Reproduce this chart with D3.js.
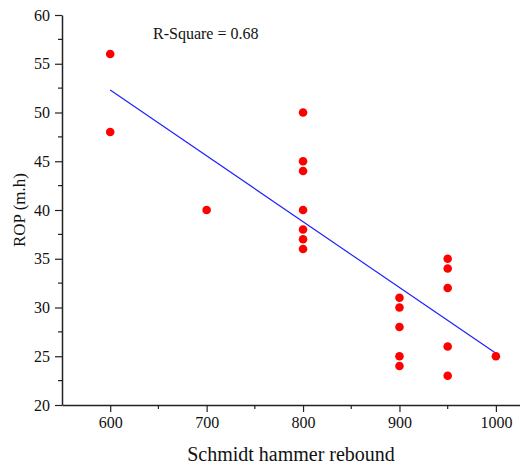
<!DOCTYPE html>
<html><head><meta charset="utf-8">
<script src="https://cdn.jsdelivr.net/npm/d3@7"></script>
<style>body{margin:0;background:#fff}svg{display:block}</style>
</head><body>
<script>
const hammer = [600,600,700,800,800,800,800,800,800,800,900,900,900,900,900,950,950,950,950,950,1000];
const rop    = [56,48,40,50,45,44,40,38,37,36,31,30,28,25,24,35,34,32,26,23,25];
const fitX = [600,1000];
const fitY = [52.3,25.3];
const xTicks = [600,700,800,900,1000];
const yTicks = [20,25,30,35,40,45,50,55,60];
const rSquareLabel = "R-Square = 0.68";

const W=520,H=468;
const svg=d3.select("body").append("svg").attr("width",W).attr("height",H);
const x=d3.scaleLinear().domain([550,1025]).range([62,520]);
const y=d3.scaleLinear().domain([20,60]).range([405,15]);
const font="'Liberation Serif','Times New Roman',serif";

// minor ticks
const xMinor=d3.range(650,1025,100);
const yMinor=d3.range(22.5,60,5);
svg.append("g").selectAll("line").data(xMinor).join("line")
  .attr("x1",d=>x(d)).attr("x2",d=>x(d)).attr("y1",405).attr("y2",409)
  .attr("stroke","#222").attr("stroke-width",1.2);
svg.append("g").selectAll("line").data(yMinor).join("line")
  .attr("y1",d=>y(d)).attr("y2",d=>y(d)).attr("x1",62).attr("x2",58)
  .attr("stroke","#222").attr("stroke-width",1.2);

const xa=svg.append("g").attr("transform","translate(0,405)")
  .call(d3.axisBottom(x).tickValues(xTicks).tickFormat(d3.format("d")).tickSize(7).tickPadding(5).tickSizeOuter(0));
const ya=svg.append("g").attr("transform","translate(62,0)")
  .call(d3.axisLeft(y).tickValues(yTicks).tickFormat(d3.format("d")).tickSize(7).tickPadding(5).tickSizeOuter(0));
[xa,ya].forEach(a=>{
  a.select(".domain").attr("stroke","#222").attr("stroke-width",1.5);
  a.selectAll(".tick line").attr("stroke","#222").attr("stroke-width",1.2);
  a.selectAll("text").attr("font-family",font).attr("font-size",16).attr("fill","#111");
});

// regression line
svg.append("line")
  .attr("x1",x(fitX[0])).attr("y1",y(fitY[0]))
  .attr("x2",x(fitX[1])).attr("y2",y(fitY[1]))
  .attr("stroke","#2020ff").attr("stroke-width",1.2);

// points
svg.append("g").selectAll("circle").data(hammer.map((h,i)=>[h,rop[i]])).join("circle")
  .attr("cx",d=>x(d[0])).attr("cy",d=>y(d[1])).attr("r",4.3).attr("fill","#ff0000");

svg.append("text").attr("x",153).attr("y",39).attr("font-family",font).attr("font-size",16)
  .attr("fill","#111").text(rSquareLabel);

svg.append("text").attr("transform","translate(25,210) rotate(-90)").attr("text-anchor","middle")
  .attr("font-family",font).attr("font-size",17).attr("fill","#111").text("ROP (m.h)");
svg.append("text").attr("x",291).attr("y",461).attr("text-anchor","middle")
  .attr("font-family",font).attr("font-size",20).attr("fill","#111").text("Schmidt hammer rebound");
</script>
</body></html>
